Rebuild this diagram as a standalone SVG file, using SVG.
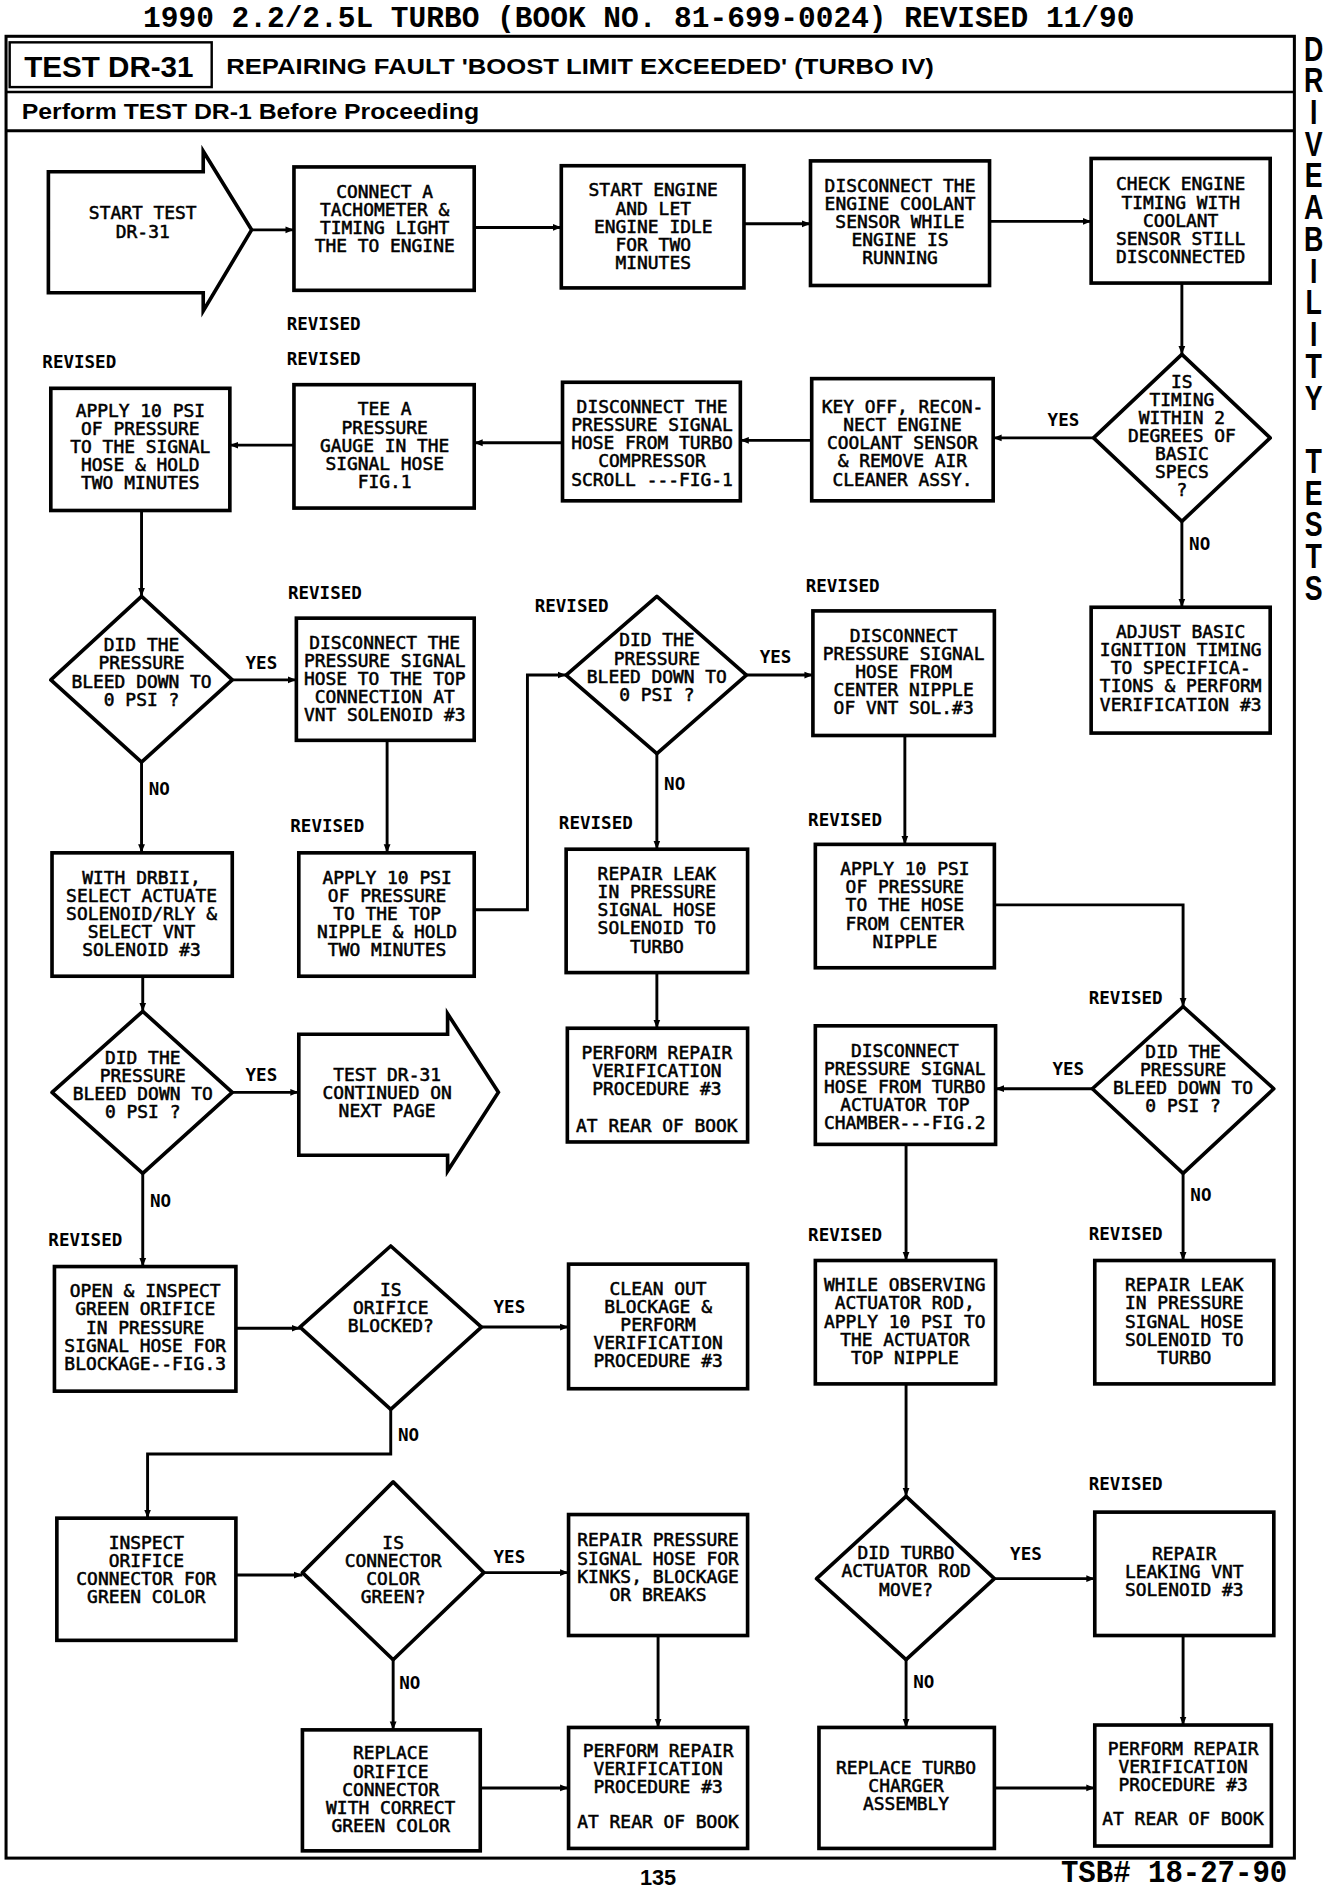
<svg xmlns="http://www.w3.org/2000/svg" width="1344" height="1890" viewBox="0 0 1344 1890">
<style>
.box{fill:#fff;stroke:#000;stroke-width:3;stroke-linejoin:miter}
.dia{fill:#fff;stroke:#000;stroke-width:3;stroke-linejoin:round}
.t{font-family:"DejaVu Sans Mono","Liberation Mono",monospace;font-size:14.8px;text-anchor:middle;fill:#000;stroke:#000;stroke-width:0.45}
.lbl{font-family:"DejaVu Sans Mono","Liberation Mono",monospace;font-size:14.5px;font-weight:bold;fill:#000}
.c{fill:none;stroke:#000;stroke-width:2.4;marker-end:url(#ah)}
.frame{fill:none;stroke:#000;stroke-width:2.5}
.side{font-family:"Liberation Sans",Arial,sans-serif;font-weight:bold;font-size:29.5px;fill:#000;writing-mode:vertical-rl;text-orientation:upright;letter-spacing:-7.45px}
</style>
<defs>
<marker id="ah" viewBox="0 0 10 10" refX="10" refY="5" markerWidth="7" markerHeight="7" markerUnits="userSpaceOnUse" orient="auto"><path d="M0,1 L10,5 L0,9 z" fill="#000"/></marker>
</defs>
<rect x="0" y="0" width="1344" height="1890" fill="#fff"/>
<g transform="scale(1.2097)">
<g id="page">
<text x="528" y="22" text-anchor="middle" font-family="'Liberation Mono','Courier New',monospace" font-weight="bold" font-size="24.4">1990 2.2/2.5L TURBO (BOOK NO. 81-699-0024) REVISED 11/90</text>
<rect class="frame" x="5" y="30" width="1065" height="1506"/>
<rect x="8" y="35" width="167" height="37" fill="none" stroke="#000" stroke-width="2"/>
<line x1="5" y1="76" x2="1070" y2="76" stroke="#000" stroke-width="2"/>
<line x1="5" y1="108" x2="1070" y2="108" stroke="#000" stroke-width="2.5"/>
<text x="20" y="64" font-family="'Liberation Sans',Arial,sans-serif" font-weight="bold" font-size="24.5" textLength="140" lengthAdjust="spacingAndGlyphs">TEST DR-31</text>
<text x="187" y="61" font-family="'Liberation Sans',Arial,sans-serif" font-weight="bold" font-size="19" textLength="585" lengthAdjust="spacingAndGlyphs">REPAIRING FAULT 'BOOST LIMIT EXCEEDED' (TURBO IV)</text>
<text x="18" y="98" font-family="'Liberation Sans',Arial,sans-serif" font-weight="bold" font-size="17.5" textLength="378" lengthAdjust="spacingAndGlyphs">Perform TEST DR-1 Before Proceeding</text>
<g transform="translate(1086,0) scale(0.75,1)">
<text class="side" x="0" y="23">DRIVEABILITY  TESTS</text>
</g>
<text x="544" y="1558" text-anchor="middle" font-family="'Liberation Sans',Arial,sans-serif" font-weight="bold" font-size="18">135</text>
<g transform="translate(877,1556) scale(1,1.1)"><text x="0" y="0" font-family="'Liberation Mono','Courier New',monospace" font-weight="bold" font-size="24">TSB# 18-27-90</text></g>
</g>

<g id="connectors">
<path class="c" d="M208,190 H243"/>
<path class="c" d="M392,188 H464"/>
<path class="c" d="M615,185 H670"/>
<path class="c" d="M818,183 H902"/>
<path class="c" d="M977,234 V293"/>
<path class="c" d="M904,362 H821"/>
<path class="c" d="M671,364 H612"/>
<path class="c" d="M465,366 H392"/>
<path class="c" d="M243,368 H190"/>
<path class="c" d="M977,431 V502"/>
<path class="c" d="M117,422 V493"/>
<path class="c" d="M192,562 H245"/>
<path class="c" d="M117,630 V705"/>
<path class="c" d="M320,612 V705"/>
<path class="c" d="M392,752 H436 V558 H468"/>
<path class="c" d="M617,558 H672"/>
<path class="c" d="M543,623 V702"/>
<path class="c" d="M543,804 V850"/>
<path class="c" d="M748,608 V698"/>
<path class="c" d="M822,748 H978 V832"/>
<path class="c" d="M903,900 H823"/>
<path class="c" d="M978,970 V1042"/>
<path class="c" d="M749,946 V1042"/>
<path class="c" d="M749,1144 V1237"/>
<path class="c" d="M822,1305 H905"/>
<path class="c" d="M978,1352 V1426"/>
<path class="c" d="M749,1372 V1428"/>
<path class="c" d="M822,1478 H905"/>
<path class="c" d="M118,807 V836"/>
<path class="c" d="M192,903 H247"/>
<path class="c" d="M118,970 V1047"/>
<path class="c" d="M195,1098 H248"/>
<path class="c" d="M398,1097 H470"/>
<path class="c" d="M323,1165 V1202 H122 V1255"/>
<path class="c" d="M195,1302 H250"/>
<path class="c" d="M400,1300 H470"/>
<path class="c" d="M544,1352 V1428"/>
<path class="c" d="M325,1372 V1430"/>
<path class="c" d="M397,1478 H470"/>
<text class="lbl" x="866" y="352">YES</text>
<text class="lbl" x="983" y="455">NO</text>
<text class="lbl" x="203" y="553">YES</text>
<text class="lbl" x="123" y="657">NO</text>
<text class="lbl" x="628" y="548">YES</text>
<text class="lbl" x="549" y="653">NO</text>
<text class="lbl" x="870" y="889">YES</text>
<text class="lbl" x="984" y="993">NO</text>
<text class="lbl" x="835" y="1290">YES</text>
<text class="lbl" x="755" y="1395">NO</text>
<text class="lbl" x="203" y="894">YES</text>
<text class="lbl" x="124" y="998">NO</text>
<text class="lbl" x="408" y="1085">YES</text>
<text class="lbl" x="329" y="1191">NO</text>
<text class="lbl" x="408" y="1292">YES</text>
<text class="lbl" x="330" y="1396">NO</text>
<text class="lbl" x="237" y="273">REVISED</text>
<text class="lbl" x="237" y="302">REVISED</text>
<text class="lbl" x="35" y="304">REVISED</text>
<text class="lbl" x="238" y="495">REVISED</text>
<text class="lbl" x="442" y="506">REVISED</text>
<text class="lbl" x="666" y="489">REVISED</text>
<text class="lbl" x="240" y="688">REVISED</text>
<text class="lbl" x="462" y="685">REVISED</text>
<text class="lbl" x="668" y="683">REVISED</text>
<text class="lbl" x="900" y="830">REVISED</text>
<text class="lbl" x="40" y="1030">REVISED</text>
<text class="lbl" x="668" y="1026">REVISED</text>
<text class="lbl" x="900" y="1025">REVISED</text>
<text class="lbl" x="900" y="1232">REVISED</text>
</g>

<g id="n1"><polygon class="box" points="40,142 168,142 168,125 208,190 168,257 168,242 40,242"/>
<text class="t"><tspan x="118" y="181.4">START TEST</tspan><tspan x="118" dy="15">DR-31</tspan></text></g>

<g id="n2"><rect class="box" x="243" y="138" width="149" height="102"/>
<text class="t"><tspan x="318" y="163.4">CONNECT A</tspan><tspan x="318" dy="15">TACHOMETER &amp;</tspan><tspan x="318" dy="15">TIMING LIGHT</tspan><tspan x="318" dy="15">THE TO ENGINE</tspan></text></g>

<g id="n3"><rect class="box" x="464" y="137" width="151" height="101"/>
<text class="t"><tspan x="540" y="162.4">START ENGINE</tspan><tspan x="540" dy="15">AND LET</tspan><tspan x="540" dy="15">ENGINE IDLE</tspan><tspan x="540" dy="15">FOR TWO</tspan><tspan x="540" dy="15">MINUTES</tspan></text></g>

<g id="n4"><rect class="box" x="670" y="133" width="148" height="103"/>
<text class="t"><tspan x="744" y="158.4">DISCONNECT THE</tspan><tspan x="744" dy="15">ENGINE COOLANT</tspan><tspan x="744" dy="15">SENSOR WHILE</tspan><tspan x="744" dy="15">ENGINE IS</tspan><tspan x="744" dy="15">RUNNING</tspan></text></g>

<g id="n5"><rect class="box" x="902" y="131" width="148" height="103"/>
<text class="t"><tspan x="976" y="157.4">CHECK ENGINE</tspan><tspan x="976" dy="15">TIMING WITH</tspan><tspan x="976" dy="15">COOLANT</tspan><tspan x="976" dy="15">SENSOR STILL</tspan><tspan x="976" dy="15">DISCONNECTED</tspan></text></g>

<g id="n6"><polygon class="dia" points="977,293 1050,362 977,431 904,362"/>
<text class="t"><tspan x="977" y="320.4">IS</tspan><tspan x="977" dy="15">TIMING</tspan><tspan x="977" dy="15">WITHIN 2</tspan><tspan x="977" dy="15">DEGREES OF</tspan><tspan x="977" dy="15">BASIC</tspan><tspan x="977" dy="15">SPECS</tspan><tspan x="977" dy="15">?</tspan></text></g>

<g id="n7"><rect class="box" x="671" y="313" width="150" height="101"/>
<text class="t"><tspan x="746" y="341.4">KEY OFF, RECON-</tspan><tspan x="746" dy="15">NECT ENGINE</tspan><tspan x="746" dy="15">COOLANT SENSOR</tspan><tspan x="746" dy="15">&amp; REMOVE AIR</tspan><tspan x="746" dy="15">CLEANER ASSY.</tspan></text></g>

<g id="n8"><rect class="box" x="465" y="316" width="147" height="98"/>
<text class="t"><tspan x="539" y="341.4">DISCONNECT THE</tspan><tspan x="539" dy="15">PRESSURE SIGNAL</tspan><tspan x="539" dy="15">HOSE FROM TURBO</tspan><tspan x="539" dy="15">COMPRESSOR</tspan><tspan x="539" dy="15">SCROLL ---FIG-1</tspan></text></g>

<g id="n9"><rect class="box" x="243" y="318" width="149" height="102"/>
<text class="t"><tspan x="318" y="343.4">TEE A</tspan><tspan x="318" dy="15">PRESSURE</tspan><tspan x="318" dy="15">GAUGE IN THE</tspan><tspan x="318" dy="15">SIGNAL HOSE</tspan><tspan x="318" dy="15">FIG.1</tspan></text></g>

<g id="n10"><rect class="box" x="42" y="321" width="148" height="101"/>
<text class="t"><tspan x="116" y="344.4">APPLY 10 PSI</tspan><tspan x="116" dy="15">OF PRESSURE</tspan><tspan x="116" dy="15">TO THE SIGNAL</tspan><tspan x="116" dy="15">HOSE &amp; HOLD</tspan><tspan x="116" dy="15">TWO MINUTES</tspan></text></g>

<g id="n11"><rect class="box" x="902" y="502" width="148" height="104"/>
<text class="t"><tspan x="976" y="527.4">ADJUST BASIC</tspan><tspan x="976" dy="15">IGNITION TIMING</tspan><tspan x="976" dy="15">TO SPECIFICA-</tspan><tspan x="976" dy="15">TIONS &amp; PERFORM</tspan><tspan x="976" dy="15">VERIFICATION #3</tspan></text></g>

<g id="n12"><polygon class="dia" points="117,493 192,562 117,630 42,562"/>
<text class="t"><tspan x="117" y="538.4">DID THE</tspan><tspan x="117" dy="15">PRESSURE</tspan><tspan x="117" dy="15">BLEED DOWN TO</tspan><tspan x="117" dy="15">0 PSI ?</tspan></text></g>

<g id="n13"><rect class="box" x="245" y="511" width="147" height="101"/>
<text class="t"><tspan x="318" y="536.4">DISCONNECT THE</tspan><tspan x="318" dy="15">PRESSURE SIGNAL</tspan><tspan x="318" dy="15">HOSE TO THE TOP</tspan><tspan x="318" dy="15">CONNECTION AT</tspan><tspan x="318" dy="15">VNT SOLENOID #3</tspan></text></g>

<g id="n14"><rect class="box" x="43" y="705" width="149" height="102"/>
<text class="t"><tspan x="117" y="730.4">WITH DRBII,</tspan><tspan x="117" dy="15">SELECT ACTUATE</tspan><tspan x="117" dy="15">SOLENOID/RLY &amp;</tspan><tspan x="117" dy="15">SELECT VNT</tspan><tspan x="117" dy="15">SOLENOID #3</tspan></text></g>

<g id="n15"><rect class="box" x="247" y="705" width="145" height="102"/>
<text class="t"><tspan x="320" y="730.4">APPLY 10 PSI</tspan><tspan x="320" dy="15">OF PRESSURE</tspan><tspan x="320" dy="15">TO THE TOP</tspan><tspan x="320" dy="15">NIPPLE &amp; HOLD</tspan><tspan x="320" dy="15">TWO MINUTES</tspan></text></g>

<g id="n16"><polygon class="dia" points="543,493 617,558 543,623 468,558"/>
<text class="t"><tspan x="543" y="534.4">DID THE</tspan><tspan x="543" dy="15">PRESSURE</tspan><tspan x="543" dy="15">BLEED DOWN TO</tspan><tspan x="543" dy="15">0 PSI ?</tspan></text></g>

<g id="n17"><rect class="box" x="672" y="505" width="150" height="103"/>
<text class="t"><tspan x="747" y="530.4">DISCONNECT</tspan><tspan x="747" dy="15">PRESSURE SIGNAL</tspan><tspan x="747" dy="15">HOSE FROM</tspan><tspan x="747" dy="15">CENTER NIPPLE</tspan><tspan x="747" dy="15">OF VNT SOL.#3</tspan></text></g>

<g id="n18"><rect class="box" x="468" y="702" width="150" height="102"/>
<text class="t"><tspan x="543" y="727.4">REPAIR LEAK</tspan><tspan x="543" dy="15">IN PRESSURE</tspan><tspan x="543" dy="15">SIGNAL HOSE</tspan><tspan x="543" dy="15">SOLENOID TO</tspan><tspan x="543" dy="15">TURBO</tspan></text></g>

<g id="n19"><rect class="box" x="469" y="850" width="149" height="94"/>
<text class="t"><tspan x="543" y="875.4">PERFORM REPAIR</tspan><tspan x="543" dy="15">VERIFICATION</tspan><tspan x="543" dy="15">PROCEDURE #3</tspan><tspan x="543" dy="30">AT REAR OF BOOK</tspan></text></g>

<g id="n20"><rect class="box" x="674" y="698" width="148" height="102"/>
<text class="t"><tspan x="748" y="723.4">APPLY 10 PSI</tspan><tspan x="748" dy="15">OF PRESSURE</tspan><tspan x="748" dy="15">TO THE HOSE</tspan><tspan x="748" dy="15">FROM CENTER</tspan><tspan x="748" dy="15">NIPPLE</tspan></text></g>

<g id="n21"><polygon class="dia" points="978,832 1053,900 978,970 903,900"/>
<text class="t"><tspan x="978" y="874.4">DID THE</tspan><tspan x="978" dy="15">PRESSURE</tspan><tspan x="978" dy="15">BLEED DOWN TO</tspan><tspan x="978" dy="15">0 PSI ?</tspan></text></g>

<g id="n22"><rect class="box" x="674" y="848" width="149" height="98"/>
<text class="t"><tspan x="748" y="873.4">DISCONNECT</tspan><tspan x="748" dy="15">PRESSURE SIGNAL</tspan><tspan x="748" dy="15">HOSE FROM TURBO</tspan><tspan x="748" dy="15">ACTUATOR TOP</tspan><tspan x="748" dy="15">CHAMBER---FIG.2</tspan></text></g>

<g id="n23"><rect class="box" x="905" y="1042" width="148" height="102"/>
<text class="t"><tspan x="979" y="1067.4">REPAIR LEAK</tspan><tspan x="979" dy="15">IN PRESSURE</tspan><tspan x="979" dy="15">SIGNAL HOSE</tspan><tspan x="979" dy="15">SOLENOID TO</tspan><tspan x="979" dy="15">TURBO</tspan></text></g>

<g id="n24"><rect class="box" x="674" y="1042" width="149" height="102"/>
<text class="t"><tspan x="748" y="1067.4">WHILE OBSERVING</tspan><tspan x="748" dy="15">ACTUATOR ROD,</tspan><tspan x="748" dy="15">APPLY 10 PSI TO</tspan><tspan x="748" dy="15">THE ACTUATOR</tspan><tspan x="748" dy="15">TOP NIPPLE</tspan></text></g>

<g id="n25"><polygon class="dia" points="749,1237 822,1305 749,1372 675,1305"/>
<text class="t"><tspan x="749" y="1289">DID TURBO</tspan><tspan x="749" dy="15">ACTUATOR ROD</tspan><tspan x="749" dy="15">MOVE?</tspan></text></g>

<g id="n26"><rect class="box" x="905" y="1250" width="148" height="102"/>
<text class="t"><tspan x="979" y="1289.4">REPAIR</tspan><tspan x="979" dy="15">LEAKING VNT</tspan><tspan x="979" dy="15">SOLENOID #3</tspan></text></g>

<g id="n27"><rect class="box" x="905" y="1426" width="146" height="100"/>
<text class="t"><tspan x="978" y="1450.4">PERFORM REPAIR</tspan><tspan x="978" dy="15">VERIFICATION</tspan><tspan x="978" dy="15">PROCEDURE #3</tspan><tspan x="978" dy="28">AT REAR OF BOOK</tspan></text></g>

<g id="n28"><rect class="box" x="677" y="1428" width="145" height="100"/>
<text class="t"><tspan x="749" y="1466.4">REPLACE TURBO</tspan><tspan x="749" dy="15">CHARGER</tspan><tspan x="749" dy="15">ASSEMBLY</tspan></text></g>

<g id="n29"><polygon class="dia" points="118,836 192,903 118,970 43,903"/>
<text class="t"><tspan x="118" y="879.4">DID THE</tspan><tspan x="118" dy="15">PRESSURE</tspan><tspan x="118" dy="15">BLEED DOWN TO</tspan><tspan x="118" dy="15">0 PSI ?</tspan></text></g>

<g id="n30"><polygon class="box" points="247,855 370,855 370,838 412,903 370,968 370,955 247,955"/>
<text class="t"><tspan x="320" y="893.4">TEST DR-31</tspan><tspan x="320" dy="15">CONTINUED ON</tspan><tspan x="320" dy="15">NEXT PAGE</tspan></text></g>

<g id="n31"><rect class="box" x="45" y="1047" width="150" height="103"/>
<text class="t"><tspan x="120" y="1072.4">OPEN &amp; INSPECT</tspan><tspan x="120" dy="15">GREEN ORIFICE</tspan><tspan x="120" dy="15">IN PRESSURE</tspan><tspan x="120" dy="15">SIGNAL HOSE FOR</tspan><tspan x="120" dy="15">BLOCKAGE--FIG.3</tspan></text></g>

<g id="n32"><polygon class="dia" points="323,1030 398,1097 323,1165 248,1097"/>
<text class="t"><tspan x="323" y="1071.4">IS</tspan><tspan x="323" dy="15">ORIFICE</tspan><tspan x="323" dy="15">BLOCKED?</tspan></text></g>

<g id="n33"><rect class="box" x="470" y="1045" width="148" height="103"/>
<text class="t"><tspan x="544" y="1070.4">CLEAN OUT</tspan><tspan x="544" dy="15">BLOCKAGE &amp;</tspan><tspan x="544" dy="15">PERFORM</tspan><tspan x="544" dy="15">VERIFICATION</tspan><tspan x="544" dy="15">PROCEDURE #3</tspan></text></g>

<g id="n34"><rect class="box" x="47" y="1255" width="148" height="101"/>
<text class="t"><tspan x="121" y="1280.4">INSPECT</tspan><tspan x="121" dy="15">ORIFICE</tspan><tspan x="121" dy="15">CONNECTOR FOR</tspan><tspan x="121" dy="15">GREEN COLOR</tspan></text></g>

<g id="n35"><polygon class="dia" points="325,1225 400,1300 325,1372 250,1300"/>
<text class="t"><tspan x="325" y="1280.4">IS</tspan><tspan x="325" dy="15">CONNECTOR</tspan><tspan x="325" dy="15">COLOR</tspan><tspan x="325" dy="15">GREEN?</tspan></text></g>

<g id="n36"><rect class="box" x="470" y="1252" width="148" height="100"/>
<text class="t"><tspan x="544" y="1278.4">REPAIR PRESSURE</tspan><tspan x="544" dy="15">SIGNAL HOSE FOR</tspan><tspan x="544" dy="15">KINKS, BLOCKAGE</tspan><tspan x="544" dy="15">OR BREAKS</tspan></text></g>

<g id="n37"><rect class="box" x="470" y="1428" width="148" height="100"/>
<text class="t"><tspan x="544" y="1452.4">PERFORM REPAIR</tspan><tspan x="544" dy="15">VERIFICATION</tspan><tspan x="544" dy="15">PROCEDURE #3</tspan><tspan x="544" dy="29">AT REAR OF BOOK</tspan></text></g>

<g id="n38"><rect class="box" x="250" y="1430" width="147" height="100"/>
<text class="t"><tspan x="323" y="1454.4">REPLACE</tspan><tspan x="323" dy="15">ORIFICE</tspan><tspan x="323" dy="15">CONNECTOR</tspan><tspan x="323" dy="15">WITH CORRECT</tspan><tspan x="323" dy="15">GREEN COLOR</tspan></text></g>
</g>
</svg>
